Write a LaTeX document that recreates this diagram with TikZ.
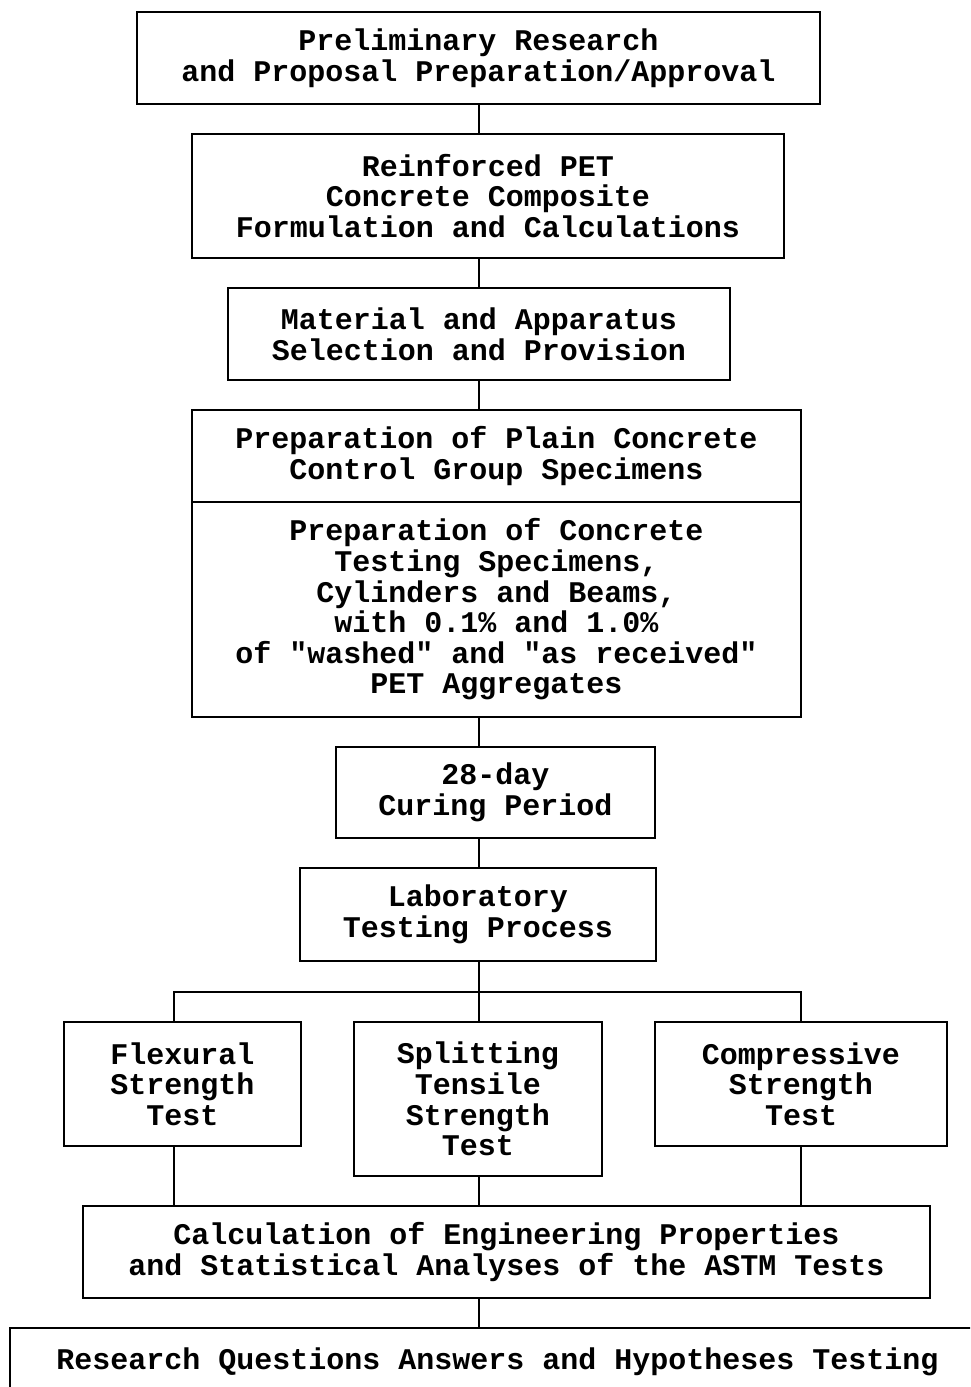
\documentclass[tikz,border=0pt]{standalone}
\usepackage{fontspec}
\newfontfamily\cour{Liberation Mono}[BoldFont={Liberation Mono Bold}]
\begin{document}
\begin{tikzpicture}[x=1pt,y=-1pt,
  box/.style={draw,line width=1.6pt,align=center,inner sep=0pt,
    font=\cour\bfseries\fontsize{30}{30.6}\selectfont},
  link/.style={line width=1.6pt}]
\clip (0,0) rectangle (970,1387);
\fill[white] (0,0) rectangle (970,1387);
\coordinate (spine) at (479,0);
\node[box,minimum width=683,minimum height=92] (b1) at (478.5,58) {Preliminary Research\\and Proposal Preparation/Approval};
\node[box,minimum width=592,minimum height=124] (b2) at (488,196) {Reinforced PET\\Concrete Composite\\Formulation and Calculations};
\node[box,minimum width=502,minimum height=92] (b3) at (479,334) {Material and Apparatus\\Selection and Provision};
\node[box,minimum width=609,minimum height=92] (b4a) at (496.5,456) {Preparation of Plain Concrete\\Control Group Specimens};
\node[box,minimum width=609,minimum height=215] (b4b) at (496.5,609.5) {Preparation of Concrete\\Testing Specimens,\\Cylinders and Beams,\\with 0.1\% and 1.0\%\\of "washed" and "as received"\\PET Aggregates};
\node[box,minimum width=319,minimum height=91] (b5) at (495.5,792.5) {28-day\\Curing Period};
\node[box,minimum width=356,minimum height=93] (b6) at (478,914.5) {Laboratory\\Testing Process};
\node[box,minimum width=237,minimum height=124] (f) at (182.5,1084) {Flexural\\Strength\\Test};
\node[box,minimum width=248,minimum height=154] (s) at (478,1099) {Splitting\\Tensile\\Strength\\Test};
\node[box,minimum width=292,minimum height=124] (c) at (801,1084) {Compressive\\Strength\\Test};
\node[box,minimum width=847,minimum height=92] (calc) at (506.5,1252) {Calculation of Engineering Properties\\and Statistical Analyses of the ASTM Tests};
\node[box,minimum width=975,minimum height=68] (final) at (497.5,1362) {Research Questions Answers and Hypotheses Testing};
\coordinate (fl) at (174,992);
\coordinate (cr) at (801,992);
\draw[link] (b1.south -| spine) -- (b2.north -| spine);
\draw[link] (b2.south -| spine) -- (b3.north -| spine);
\draw[link] (b3.south -| spine) -- (b4a.north -| spine);
\draw[link] (b4b.south -| spine) -- (b5.north -| spine);
\draw[link] (b5.south -| spine) -- (b6.north -| spine);
\draw[link] (b6.south -| spine) -- (s.north -| spine);
\draw[link] (f.north -| fl) -- (fl) -- (cr) -- (c.north -| cr);
\draw[link] (f.south -| fl) -- (calc.north -| fl);
\draw[link] (s.south -| spine) -- (calc.north -| spine);
\draw[link] (c.south -| cr) -- (calc.north -| cr);
\draw[link] (calc.south -| spine) -- (final.north -| spine);
\end{tikzpicture}
\end{document}
